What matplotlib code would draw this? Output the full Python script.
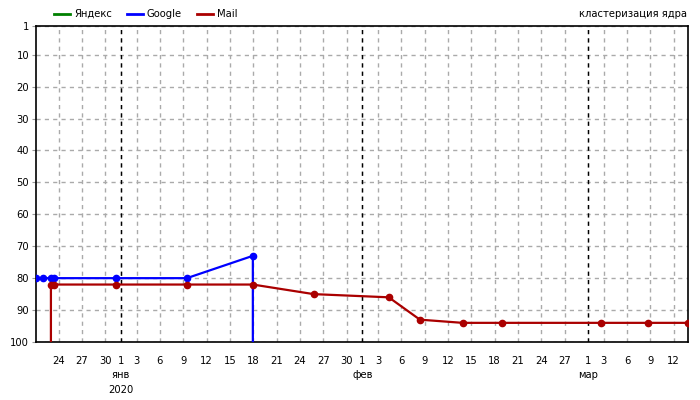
import numpy as np
import pandas as pd
import matplotlib
matplotlib.use("Agg")
import matplotlib.pyplot as plt
import matplotlib.dates as mdates

# data: position of each site in search results (1 = top, >100 = not found)
google_dates = ["2019-12-21 02:00", "2019-12-22 00:00", "2019-12-23 00:00", "2019-12-23 10:30",
                "2019-12-31 09:30", "2020-01-09 11:00", "2020-01-17 22:30", "2020-01-17 22:30"]
google_pos = [80, 80, 80, 80, 80, 80, 73, 105]

mail_dates = ["2019-12-23 00:00", "2019-12-23 00:00", "2019-12-23 10:30", "2019-12-31 09:30",
              "2020-01-09 11:00", "2020-01-17 22:30", "2020-01-25 18:00", "2020-02-04 09:30",
              "2020-02-08 09:30", "2020-02-13 21:00", "2020-02-18 21:30", "2020-03-02 17:00",
              "2020-03-08 18:00", "2020-03-13 20:00"]
mail_pos = [105, 82, 82, 82, 82, 82, 85, 86, 93, 94, 94, 94, 94, 94]

yandex_dates = []
yandex_pos = []

y_ticks = [1, 10, 20, 30, 40, 50, 60, 70, 80, 90, 100]
month_names = {1: "янв", 2: "фев", 3: "мар"}
title = "кластеризация ядра"

C_YANDEX = "#008000"
C_GOOGLE = "#0000ff"
C_MAIL = "#aa0000"
FS = 7.2

g_x = pd.to_datetime(google_dates)
m_x = pd.to_datetime(mail_dates)

fig = plt.figure(figsize=(7, 4), dpi=100, facecolor="white")
ax = fig.add_axes([36 / 700, 58 / 400, 652 / 700, 316 / 400])

ax.plot(pd.to_datetime(yandex_dates), yandex_pos, color=C_YANDEX, lw=1.6,
        marker="o", ms=4.5, label="Яндекс", zorder=3)
ax.plot(g_x, google_pos, color=C_GOOGLE, lw=1.6, marker="o", ms=4.5,
        label="Google", zorder=4)
ax.plot(m_x, mail_pos, color=C_MAIL, lw=1.6, marker="o", ms=4.5,
        label="Mail", zorder=5)

x0 = min(g_x.min(), m_x.min())
x1 = max(g_x.max(), m_x.max())
ax.set_xlim(x0, x1)
ax.set_ylim(100, 1)
ax.set_yticks(y_ticks)

# day ticks
ax.xaxis.set_major_locator(mdates.DayLocator(bymonthday=[1] + list(range(3, 31, 3))))
ax.xaxis.set_major_formatter(mdates.DateFormatter("%-d"))
ax.tick_params(axis="both", labelsize=FS, length=3, color="#999999", pad=2)
ax.tick_params(axis="x", length=0, pad=10)

ax.grid(True, color="#aaaaaa", linestyle=(0, (3, 3)), linewidth=1.0, zorder=0)

# month boundaries: black dashed lines and month labels
for d in pd.date_range(x0.normalize(), x1, freq="MS"):
    ax.axvline(d, color="black", linestyle=(0, (3, 3)), linewidth=1.0, zorder=2)
    ax.annotate(month_names[d.month], xy=(d, 0), xycoords=("data", "axes fraction"),
                xytext=(0, -33), textcoords="offset pixels",
                ha="center", va="center", fontsize=FS)
    if d.month == 1:
        ax.annotate(str(d.year), xy=(d, 0), xycoords=("data", "axes fraction"),
                    xytext=(0, -48), textcoords="offset pixels",
                    ha="center", va="center", fontsize=FS)

for s in ax.spines.values():
    s.set_color("black")
    s.set_linewidth(1.2)

fig.legend(loc="upper left", bbox_to_anchor=(45 / 700, 1.0), ncol=3, frameon=False,
           fontsize=FS, handlelength=1.6, handletextpad=0.4, columnspacing=1.5)
for h in fig.legends[0].get_lines():
    h.set_marker("")
    h.set_linewidth(2)

fig.text(687 / 700, 1 - 14 / 400, title, ha="right", va="center", fontsize=FS)

fig.savefig("out.png", dpi=100)
